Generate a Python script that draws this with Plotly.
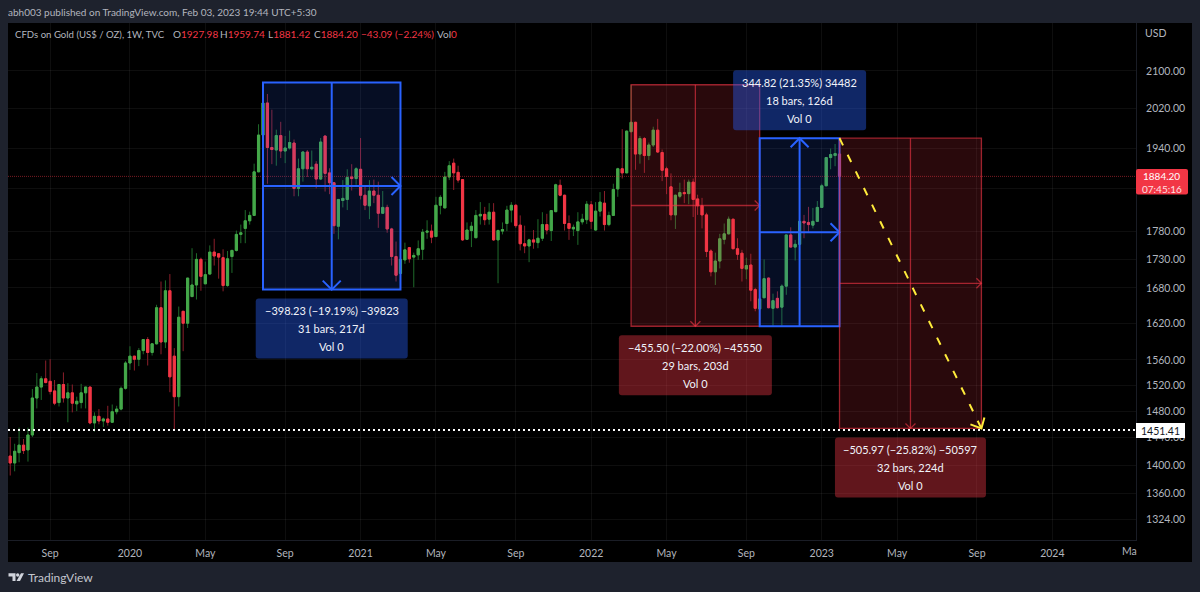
import math
import pandas as pd
import plotly.graph_objects as go

# Weekly XAU/USD candles, oldest first
opens = [1413,1403,1418,1429,1422,1444,1500,1517,1530,1526,1511,1493,1521,1500,1508,1491,1493,1508,1517,1462,1472,1465,1468,1463,1479,1483,1515,1555,
         1566,1561,1575,1593,1572,1586,1646,1589,1675,1566,1502,1640,1620,1665,1685,1730,1687,1704,1743,1740,1733,1684,1735,1746,1775,1786,1800,1810,1893,1966,
         2032,1941,1936,1965,1934,1940,1950,1861,1899,1932,1899,1908,1879,1964,1891,1872,1790,1838,1840,1883,1880,1898,1848,1828,1856,1848,1814,1825,1785,1735,1705,1729,
         1751,1734,1738,1748,1779,1781,1771,1829,1824,1883,1910,1892,1878,1766,1782,1769,1809,1812,1803,1816,1765,1781,1795,1820,1829,1792,1758,1754,1765,1760,1768,1793,1782,1817,1867,1848,1795,1785,1782,1798,1802,1830,1783,1818,1833,1793,1810,1860,1899,1891,1973,1992,
         1928,1959,1925,1946,1976,1931,1899,1864,1811,1846,1853,1851,1873,1841,1828,1811,1745,1708,1727,1766,1776,1803,1749,1741,1713,1720,1677,1644,1663,1697,1645,1662,1647,1683,1774,1752,1757,1799,1797,1792,1799,1825,1866,1921,1925,1927.98]
highs = [1441,1431,1455,1438,1455,1514,1539,1534,1559,1561,1528,1521,1540,1523,1521,1502,1522,1517,1517,1478,1483,1470,1488,1490,1488,1518,1558,1582,
         1566,1579,1593,1597,1587,1651,1691,1693,1704,1579,1648,1640,1697,1750,1741,1733,1726,1755,1767,1741,1748,1745,1747,1782,1793,1820,1817,1909,1988,2075,
         2051,2018,1977,1993,1964,1975,1957,1919,1934,1936,1935,1914,1960,1965,1900,1872,1840,1877,1898,1908,1902,1960,1865,1877,1878,1874,1856,1830,1787,1762,1755,1760,
         1752,1742,1764,1785,1801,1793,1845,1848,1893,1914,1919,1905,1879,1797,1798,1820,1835,1826,1833,1833,1784,1797,1828,1835,1831,1810,1791,1767,1783,1803,1816,1813,1819,1870,1878,1849,1810,1793,1816,1813,1837,1837,1835,1854,1856,1817,1870,1901,1978,1975,2070,
         1993,1964,1962,1951,1983,1999,1937,1903,1890,1849,1872,1878,1878,1880,1849,1843,1815,1748,1742,1776,1795,1808,1803,1768,1747,1733,1740,1680,1670,1730,1698,1670,1674,1686,1774,1788,1765,1800,1811,1826,1824,1837,1870,1921,1939,1948,1959.74]
lows = [1385,1391,1404,1416,1405,1441,1484,1497,1523,1505.5,1489,1487,1493,1463,1478,1480,1484,1484,1460,1449,1460,1456,1458,1463,1475,1481,1513,1544,
        1543,1550,1569,1551,1567,1585,1569,1579,1509,1451,1487,1574,1612,1665,1660,1675,1687,1704,1719,1696,1674,1682,1706,1744,1759,1759,1793,1810,1893,1964,
        1870,1908,1905,1920,1910,1937,1846,1846,1874,1883,1896,1861,1877,1855,1850,1776,1766,1825,1820,1857,1868,1840,1820,1803,1833,1787,1814,1778,1719,1691,1688,1722,
        1724,1681,1729,1729,1767,1759,1771,1812,1824,1877,1858,1872,1763,1765,1752,1768,1793,1792,1793,1763,1688,1775,1781,1797,1787,1746,1741,1725,1749,1750,1763,1775,1763,1816,1846,1782,1765,1772,1756,1793,1794,1785,1782,1808,1782,1790,1810,1845,1880,1891,1971,
        1897,1909,1891,1916,1942,1930,1875,1850,1801,1785,1842,1833,1831,1807,1811,1786,1734,1700,1685,1714,1757,1775,1749,1729,1691,1695,1657,1640,1640,1663,1645,1616,1645,1616,1668,1752,1728,1739,1768,1778,1786,1798,1825,1866,1898,1904,1881.42]
closes = [1403,1420,1429,1421,1444,1500,1517,1530,1524,1510,1492,1521,1500,1508,1492,1495,1508,1517,1462,1472,1465,1468,1463,1479,1483,1515,1555,1566,
          1561,1575,1593,1572,1586,1646,1589,1675,1533,1502,1630,1620,1697,1685,1730,1700,1703,1743,1736,1734,1684,1731,1746,1775,1778,1800,1810,1893,1966,2032,
          1941,1937,1965,1934,1940,1951,1861,1899,1932,1899,1902,1879,1952,1890,1872,1791,1840,1842,1882,1880,1899,1848,1829,1856,1848,1814,1825,1785,1735,1702,1730,1747,
          1731,1737,1749,1779,1781,1770,1829,1844,1883,1905,1891,1877,1765,1783,1790,1810,1812,1802,1816,1765,1782,1784,1820,1829,1791,1758,1754,1765,1761,1768,1793,1783,1819,1868,1848,1795,1786,1788,1798,1803,1831,1799,1818,1835,1793,1810,1859,1899,1891,1974,1992,1928,
          1959,1925,1946,1976,1932,1896,1884,1811,1848,1853,1851,1873,1840,1828,1811,1744,1708,1727,1767,1776,1803,1749,1739,1714,1719,1676,1645,1661,1696,1646,1658,1646,1683,1774,1752,1757,1799,1796,1793,1799,1825,1866,1921,1927,1929,1884.20]

week_dates = pd.date_range(end="2023-01-30", periods=len(opens), freq="7D")

x_range = ["2019-06-27 12:00", "2024-05-12"]
y_top, y_bottom = 2206.3, 1296.1

x_tick_dates = ["2019-09-02", "2020-01-06", "2020-05-04", "2020-09-07", "2021-01-04", "2021-05-03", "2021-09-06",
                "2022-01-03", "2022-05-02", "2022-09-05", "2023-01-02", "2023-05-01", "2023-09-04", "2024-01-01"]
x_tick_labels = ["Sep", "2020", "May", "Sep", "2021", "May", "Sep", "2022", "May", "Sep", "2023", "May", "Sep", "2024"]
y_ticks = [2100, 2020, 1940, 1860, 1780, 1730, 1680, 1620, 1560, 1520, 1480, 1440, 1400, 1360, 1324]
# 1860 keeps its gridline; its label sits behind the last-price tag
y_tick_labels = ["" if v == 1860 else f"{v:.2f}" for v in y_ticks]

last_price = 1884.20
level_price = 1451.41

# Measuring tools: start, end, from price, to price, caption lines
measures = [
    dict(start="2020-08-03", end="2021-03-08", p0=2075.2, p1=1677.0, color="blue", lines=["−398.23 (−19.19%) −39823", "31 bars, 217d", "Vol 0"], w=152),
    dict(start="2022-03-07", end="2022-09-26", p0=2070.45, p1=1614.95, color="red", lines=["−455.50 (−22.00%) −45550", "29 bars, 203d", "Vol 0"], w=153),
    dict(start="2022-09-26", end="2023-01-30", p0=1614.92, p1=1959.74, color="blue", lines=["344.82 (21.35%) 34482", "18 bars, 126d", "Vol 0"], w=133),
    dict(start="2023-01-30", end="2023-09-11", p0=1959.74, p1=1453.77, color="red", lines=["−505.97 (−25.82%) −50597", "32 bars, 224d", "Vol 0"], w=151),
]

FONT = "Lato"
TEXT = "#b2b5be"
RED = "#f23645"
GREEN = "#45a84a"
FRAME = "#1e222d"
PANE_L, PANE_R, PANE_T, PANE_B = 8, 1136, 23, 540
W, H = 1200, 592


def px(v):
    return (v - PANE_L) / (PANE_R - PANE_L)


def py(v):
    return (PANE_B - v) / (PANE_B - PANE_T)


def mid_date(a, b):
    a, b = pd.Timestamp(a), pd.Timestamp(b)
    return (a + (b - a) / 2).strftime("%Y-%m-%d %H:%M")


def rounded(x0, y0, x1, y1, r=3):
    y0, y1 = min(y0, y1), max(y0, y1)
    return (f"M {x0 + r} {y0} L {x1 - r} {y0} Q {x1} {y0} {x1} {y0 + r} L {x1} {y1 - r} Q {x1} {y1} {x1 - r} {y1} "
            f"L {x0 + r} {y1} Q {x0} {y1} {x0} {y1 - r} L {x0} {y0 + r} Q {x0} {y0} {x0 + r} {y0} Z")


shapes = []
notes = []


def note(text, x, y, size=12, color=TEXT, anchor="left", xref="paper", yref="paper", yshift=0):
    notes.append(dict(text=text, x=x, y=y, xref=xref, yref=yref, xanchor=anchor, yanchor="middle", showarrow=False,
                      yshift=yshift, borderpad=0, borderwidth=0, font=dict(family=FONT, size=size, color=color)))


# Black chart pane, including the two axis strips
shapes.append(dict(type="rect", xref="paper", yref="paper", x0=0, x1=px(1192), y0=py(562), y1=1,
                   fillcolor="#000000", line_width=0, layer="below"))

# Last-price and level lines
shapes.append(dict(type="line", xref="paper", yref="y", x0=0, x1=1, y0=last_price, y1=last_price,
                   line=dict(color="rgba(242,54,69,0.5)", width=1, dash="1px,1px"), layer="above"))

for m in measures:
    stroke = "#2962ff" if m["color"] == "blue" else "rgba(242,54,69,0.62)"
    fill = "rgba(41,98,255,0.14)" if m["color"] == "blue" else "rgba(242,54,69,0.17)"
    lw = 2 if m["color"] == "blue" else 1.3
    head = 9 if m["color"] == "blue" else 5
    xm = mid_date(m["start"], m["end"])
    pm = math.sqrt(m["p0"] * m["p1"])
    top, bot = max(m["p0"], m["p1"]), min(m["p0"], m["p1"])
    ln = dict(color=stroke, width=lw)
    shapes.append(dict(type="rect", xref="x", yref="y", x0=m["start"], x1=m["end"], y0=bot, y1=top,
                       fillcolor=fill, line=ln, layer="above"))
    shapes.append(dict(type="line", xref="x", yref="y", x0=m["start"], x1=m["end"], y0=pm, y1=pm, line=ln, layer="above"))
    shapes.append(dict(type="line", xref="x", yref="y", x0=xm, x1=xm, y0=bot, y1=top, line=ln, layer="above"))
    # horizontal arrow head at the time end
    shapes.append(dict(type="path", xref="x", yref="y", xsizemode="pixel", ysizemode="pixel", xanchor=m["end"], yanchor=pm,
                       path=f"M {-head} {head} L 0 0 L {-head} {-head}", line=ln, layer="above"))
    # vertical arrow head at the target price
    sign = -1 if m["p1"] < m["p0"] else 1
    shapes.append(dict(type="path", xref="x", yref="y", xsizemode="pixel", ysizemode="pixel", xanchor=xm, yanchor=m["p1"],
                       path=f"M {-head} {-sign * head} L 0 0 L {head} {-sign * head}", line=ln, layer="above"))
    # caption plate with three centred lines, sitting just outside the target or start edge
    hw = m["w"] / 2
    if sign < 0:
        y0, y1, cy = -9, -69, -39
        anchor_price = bot
    else:
        y0, y1, cy = 8, 68, 38
        anchor_price = top
    shapes.append(dict(type="path", xref="x", yref="y", xsizemode="pixel", ysizemode="pixel", xanchor=xm, yanchor=anchor_price,
                       path=rounded(-hw, y0, hw, y1), fillcolor="rgba(41,98,255,0.4)" if m["color"] == "blue" else "rgba(242,54,69,0.4)",
                       line_width=0, layer="above"))
    for i, line in enumerate(m["lines"]):
        note(line, xm, math.log10(anchor_price), size=11, color="#f0f3fa", anchor="center", xref="x", yref="y", yshift=cy + 18 - 18 * i)

# Projected path down to the level line
path_start, path_end = ("2023-01-30", 1959.74), ("2023-09-11", 1453.77)
yellow = "#ffeb3b"
shapes.append(dict(type="line", xref="x", yref="y", x0=path_start[0], x1=path_end[0], y0=path_start[1], y1=path_end[1],
                   line=dict(color=yellow, width=2, dash="8px,10.5px"), layer="above"))
shapes.append(dict(type="path", xref="x", yref="y", xsizemode="pixel", ysizemode="pixel", xanchor=path_end[0], yanchor=path_end[1],
                   path="M -11 4 L 0 0 L 3 11", line=dict(color=yellow, width=2), layer="above"))

# Level line with its axis tag
shapes.append(dict(type="line", xref="paper", yref="y", x0=0, x1=1, y0=level_price, y1=level_price,
                   line=dict(color="#ffffff", width=2, dash="2px,3px"), layer="above"))
shapes.append(dict(type="rect", xref="paper", yref="paper", x0=px(1136), x1=px(1185), y0=py(438), y1=py(423),
                   fillcolor="#ffffff", line_width=0, layer="above"))
note("1451.41", px(1160.5), py(430.5), size=10.5, color="#131722", anchor="center")

# Last-price tag with the bar countdown
shapes.append(dict(type="path", xref="paper", yref="paper", xsizemode="pixel", ysizemode="pixel", xanchor=px(1136), yanchor=py(194.5),
                   path=rounded(0, 0, 52, 25.5, 2), fillcolor=RED, line_width=0, layer="above"))
note("1884.20", px(1162), py(175.5), size=10, color="#ffffff", anchor="center")
note("07:45:16", px(1162), py(188.5), size=10, color="#ffe0e3", anchor="center")

# Header and legend row
note("abh003 published on TradingView.com, Feb 03, 2023 19:44 UTC+5:30", px(8), py(12), size=10, color="#b2b5be")
note("CFDs on Gold (US$ / OZ), 1W, TVC", px(15), py(34), size=9.6)
for x_pos, label, value in [(173, "O", "1927.98"), (220, "H", "1959.74"), (268, "L", "1881.42"), (314, "C", "1884.20")]:
    note(f"{label}<span style='color:{RED}'>{value}</span>", px(x_pos), py(34), size=10)
note("−43.09 (−2.24%)", px(361), py(34), size=10, color=RED)
note(f"Vol<span style='color:{RED}'>0</span>", px(437), py(34), size=10)
note("USD", px(1145), py(33), size=10.5)
note("Ma", px(1136.5), py(550.5), size=10.5, anchor="right")

# Wordmark in the bottom band
shapes.append(dict(type="path", xref="paper", yref="paper", xsizemode="pixel", ysizemode="pixel", xanchor=px(8), yanchor=py(581),
                   path="M 0.5 7.7 L 7.5 7.7 L 7.5 0 L 4.5 0 L 4.5 4.5 L 0.5 4.5 Z M 13 7.7 L 16 7.7 L 12 0 L 8.5 0 Z "
                        "M 8 6 Q 8 4.2 9.7 4.2 Q 11.4 4.2 11.4 6 Q 11.4 7.7 9.7 7.7 Q 8 7.7 8 6 Z",
                   fillcolor="#d1d4dc", line_width=0))
note("TradingView", px(28), py(577.5), size=12, color="#c3c6ce")

fig = go.Figure()
# Thin dark wicks first, bright bodies over them
fig.add_trace(go.Candlestick(
    x=week_dates, open=opens, high=highs, low=lows, close=closes, whiskerwidth=0, hoverinfo="skip", showlegend=False,
    increasing=dict(line=dict(color="#1f6b2b", width=1), fillcolor="#1f6b2b"),
    decreasing=dict(line=dict(color="#8c1f2b", width=1), fillcolor="#8c1f2b")))
fig.add_trace(go.Candlestick(
    x=week_dates, open=opens, close=closes,
    high=[max(a, b) for a, b in zip(opens, closes)], low=[min(a, b) for a, b in zip(opens, closes)],
    whiskerwidth=0, hoverinfo="skip", showlegend=False,
    increasing=dict(line=dict(color=GREEN, width=1), fillcolor=GREEN),
    decreasing=dict(line=dict(color=RED, width=1), fillcolor=RED)))

grid = "rgba(255,255,255,0.055)"
fig.update_layout(
    width=W, height=H, autosize=False, paper_bgcolor=FRAME, plot_bgcolor="#000000",
    margin=dict(l=PANE_L, r=W - PANE_R, t=PANE_T, b=H - PANE_B, pad=0),
    showlegend=False, boxgap=0.3, shapes=shapes, annotations=notes,
    font=dict(family=FONT, size=10.5, color=TEXT),
    xaxis=dict(type="date", range=x_range, rangeslider=dict(visible=False), tickmode="array", tickvals=x_tick_dates,
               ticktext=x_tick_labels, showgrid=True, gridcolor=grid, gridwidth=1, zeroline=False, showline=True,
               linecolor="#1a1d26", linewidth=1, ticks="outside", ticklen=3, tickcolor="rgba(0,0,0,0)",
               tickfont=dict(family=FONT, size=10.5, color=TEXT)),
    yaxis=dict(type="log", side="right", range=[math.log10(y_bottom), math.log10(y_top)], tickmode="array", tickvals=y_ticks,
               ticktext=y_tick_labels, showgrid=True, gridcolor=grid, gridwidth=1, zeroline=False, showline=True,
               linecolor="#1a1d26", linewidth=1, ticks="outside", ticklen=7, tickcolor="rgba(0,0,0,0)",
               tickfont=dict(family=FONT, size=10.5, color=TEXT)),
)

fig.write_html("out.html", config=dict(displayModeBar=False))
